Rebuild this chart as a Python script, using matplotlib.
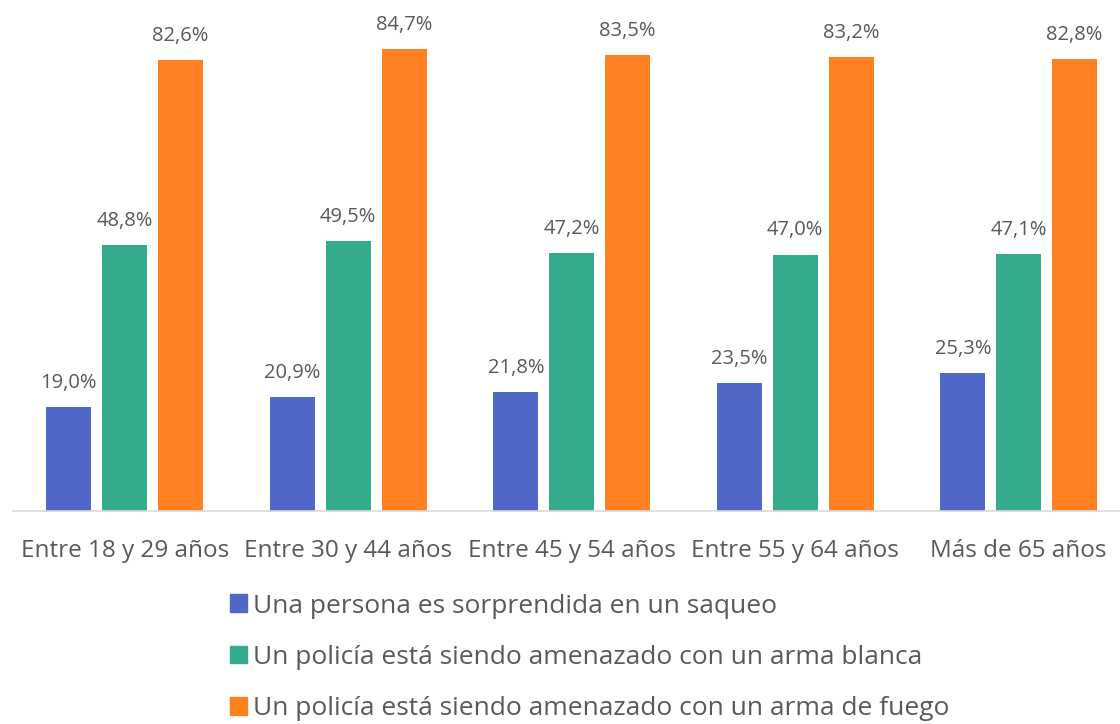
import numpy as np
import matplotlib.pyplot as plt
from matplotlib.patches import Patch

groups = ["Entre 18 y 29 años", "Entre 30 y 44 años", "Entre 45 y 54 años",
          "Entre 55 y 64 años", "Más de 65 años"]
series_names = ["Una persona es sorprendida en un saqueo",
                "Un policía está siendo amenazado con un arma blanca",
                "Un policía está siendo amenazado con un arma de fuego"]
saqueo = [19.0, 20.9, 21.8, 23.5, 25.3]
arma_blanca = [48.8, 49.5, 47.2, 47.0, 47.1]
arma_fuego = [82.6, 84.7, 83.5, 83.2, 82.8]
colors = ["#4F67C7", "#33AB8C", "#FF8021"]

text_color = "#595959"
plt.rcParams["font.family"] = ["Open Sans", "DejaVu Sans"]

fig = plt.figure(figsize=(11.2, 7.24), dpi=100)
ax = fig.add_axes([13 / 1120, 1 - 511 / 724, 1117.5 / 1120, 491 / 724])

x = np.arange(len(groups))
width = 0.201
step = 0.25
for i, (vals, c) in enumerate(zip([saqueo, arma_blanca, arma_fuego], colors)):
    pos = x + (i - 1) * step
    ax.bar(pos, vals, width=width, color=c)
    for xp, v in zip(pos, vals):
        ax.text(xp, v + 2.6, f"{v:.1f}%".replace(".", ","), ha="center", va="bottom",
                fontsize=14.5, color=text_color)

ax.set_xlim(-0.5, len(groups) - 0.5)
ax.set_ylim(0, 90)
ax.set_xticks(x)
ax.set_xticklabels(groups, fontsize=17.5, color=text_color)
ax.tick_params(axis="x", length=0, pad=20)
ax.set_yticks([])
for s in ["top", "right", "left"]:
    ax.spines[s].set_visible(False)
ax.spines["bottom"].set_color("#D9D9D9")
ax.spines["bottom"].set_linewidth(1.2)

handles = [Patch(color=c) for c in colors]
fig.legend(handles, series_names, loc="upper left", bbox_to_anchor=(219 / 1120, 1 - 583 / 724),
           frameon=False, fontsize=19, labelcolor=text_color, handlelength=0.65, handleheight=0.65,
           handletextpad=0.25, labelspacing=1.0, borderaxespad=0)

fig.savefig("out.png", dpi=100)
